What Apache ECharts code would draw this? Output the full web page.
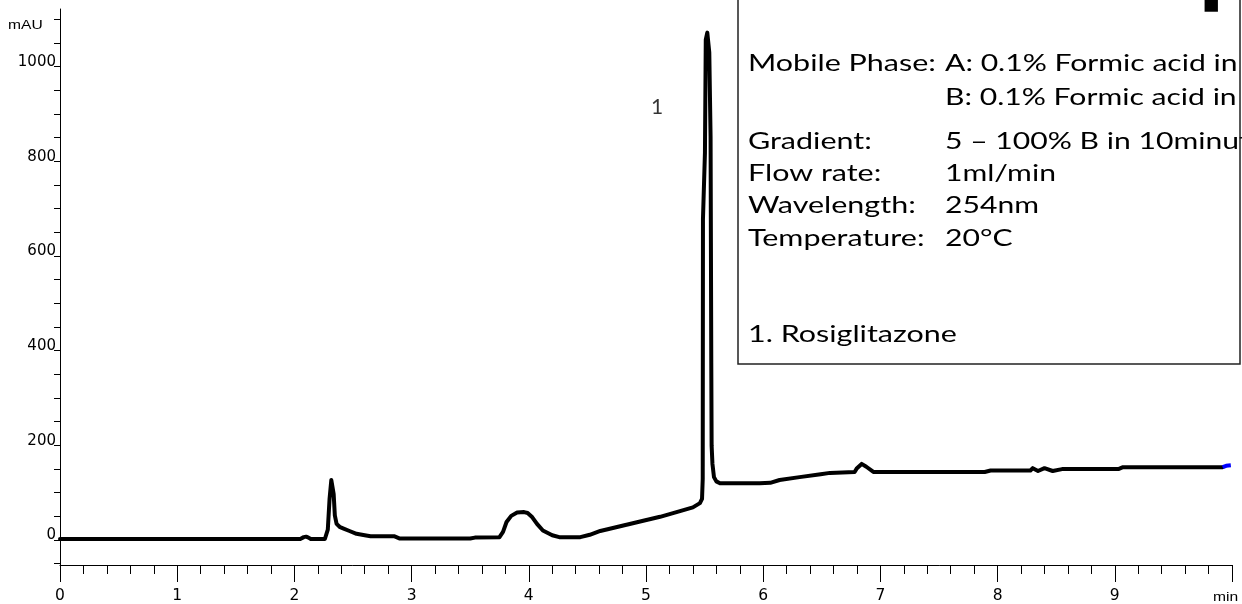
<!DOCTYPE html>
<html>
<head>
<meta charset="utf-8">
<script src="https://cdn.jsdelivr.net/npm/echarts@6/dist/echarts.min.js"></script>
<style>html,body{margin:0;padding:0;background:#fff;}#c{width:1242px;height:604px;}</style>
</head>
<body>
<div id="c"></div>
<script>
// retention time (min)
var times = [0, 2.05, 2.08, 2.10, 2.12, 2.14, 2.26, 2.285, 2.30, 2.315, 2.325, 2.335, 2.345, 2.36, 2.39, 2.42, 2.47, 2.53, 2.60, 2.65, 2.85, 2.90,
  3.50, 3.54, 3.75, 3.78, 3.81, 3.85, 3.90, 3.96, 3.99, 4.03, 4.07, 4.12, 4.20, 4.26, 4.44, 4.52, 4.61, 4.78, 4.95, 5.12, 5.29, 5.40, 5.46, 5.478,
  5.484, 5.486, 5.503, 5.51, 5.523, 5.54, 5.551, 5.557, 5.56, 5.567, 5.58, 5.60, 5.631, 5.97, 6.06, 6.14, 6.31, 6.49, 6.57, 6.78, 6.80, 6.84, 6.88, 6.94,
  7.89, 7.94, 8.28, 8.30, 8.345, 8.40, 8.47, 8.55, 9.03, 9.07, 9.92];
// absorbance (mAU)
var values = [0, 0, 4, 5, 3, 0, 0, 20, 85, 125, 127, 95, 50, 32, 25, 22, 17, 11, 8, 6, 6, 1,
  1, 3, 4, 15, 36, 49, 56, 57, 55, 46, 32, 18, 8, 4, 4, 9, 17, 27, 37, 47, 59, 67, 76, 85,
  127, 677, 818, 1057, 1072, 1030, 852, 374, 197, 159, 131, 122, 118, 118, 119, 125, 131, 137, 140, 142, 150, 159, 153, 142,
  142, 145, 145, 150, 144, 150, 144, 148, 148, 152, 152];
// final segment drawn in blue
var endTimes = [9.92, 9.95, 9.99];
var endValues = [152, 155, 156];

var yTickLabels = [0, 200, 400, 600, 800, 1000];
var xTickLabels = [0, 1, 2, 3, 4, 5, 6, 7, 8, 9];

var conditions = [
  ['Mobile Phase:', 'A: 0.1% Formic acid in'],
  ['', 'B: 0.1% Formic acid in'],
  ['Gradient:', '5 – 100% B in 10minutes'],
  ['Flow rate:', '1ml/min'],
  ['Wavelength:', '254nm'],
  ['Temperature:', '20°C']
];
var peakNames = ['1. Rosiglitazone'];
var peakLabel = {text: '1', t: 5.094, v: 915};

var traceData = times.map(function (t, i) { return [t, values[i]]; });
var endData = endTimes.map(function (t, i) { return [t, endValues[i]]; });

var chart = echarts.init(document.getElementById('c'), null, {renderer: 'canvas'});

var SX = 1.27;
var boxFont = '24px Lato';
function txt(x, y, s, font, va, sx) {
  return {type: 'text', x: x, y: y, scaleX: sx || SX, z: 10,
    style: {x: 0, y: 0, text: s, font: font || boxFont, fill: '#000', verticalAlign: va || 'middle', align: 'left'}};
}
var lineY = [63, 97, 141, 173, 205, 238];
var boxTexts = [];
conditions.forEach(function (row, i) {
  if (row[0]) boxTexts.push(txt(748, lineY[i], row[0]));
  boxTexts.push(txt(945, lineY[i], row[1], boxFont, 'middle', 1.255));
});
peakNames.forEach(function (n, i) {
  boxTexts.push(txt(748, 334 + i * 32, n));
});

var option = {
  animation: false,
  backgroundColor: '#fff',
  grid: [
    {left: 60, right: 10, top: 9, bottom: 38},
    {left: 60, right: 10, top: 19.4, bottom: 40.34}
  ],
  xAxis: [
    {
      type: 'value', gridIndex: 0, min: 0, max: 10, interval: 1,
      axisLine: {show: true, onZero: false, lineStyle: {color: '#000', width: 1}},
      axisTick: {show: true, length: 17, lineStyle: {color: '#000'}},
      minorTick: {show: true, splitNumber: 5, length: 9, lineStyle: {color: '#000'}},
      splitLine: {show: false},
      axisLabel: {margin: 23, fontSize: 15.5, fontFamily: 'DejaVu Sans', color: '#000',
        formatter: function (v) { return xTickLabels.indexOf(v) >= 0 ? String(v) : ''; }}
    },
    {type: 'value', gridIndex: 1, min: 0, max: 10, show: false}
  ],
  yAxis: [
    {
      type: 'value', gridIndex: 0, min: -55, max: 1122,
      axisLine: {show: true, lineStyle: {color: '#000', width: 1}},
      axisTick: {show: false}, axisLabel: {show: false}, splitLine: {show: false}
    },
    {
      type: 'value', gridIndex: 1, min: -50, max: 1100, interval: 50,
      axisLine: {show: false},
      axisTick: {show: true, length: 6, lineStyle: {color: '#000'}},
      splitLine: {show: false},
      axisLabel: {margin: 4, fontSize: 15, fontFamily: 'DejaVu Sans', color: '#000', verticalAlign: 'bottom', lineHeight: 9,
        formatter: function (v) { return yTickLabels.indexOf(v) >= 0 ? String(v) : ''; }}
    }
  ],
  series: [
    {
      type: 'line', xAxisIndex: 0, yAxisIndex: 0, data: traceData, showSymbol: false, symbol: 'none',
      lineStyle: {color: '#000', width: 4, join: 'round', cap: 'round'}, z: 3
    },
    {
      type: 'line', xAxisIndex: 0, yAxisIndex: 0, data: endData, showSymbol: false, symbol: 'none',
      lineStyle: {color: '#0000ff', width: 4}, z: 4
    },
    {
      type: 'scatter', xAxisIndex: 0, yAxisIndex: 0, data: [[peakLabel.t, peakLabel.v]], symbolSize: 0,
      label: {show: true, position: 'inside', formatter: peakLabel.text, fontSize: 21, fontFamily: 'Lato', color: '#000'}
    }
  ],
  graphic: [
    {type: 'rect', shape: {x: 738, y: -10, width: 502, height: 374}, style: {fill: 'none', stroke: '#222', lineWidth: 1.5}, z: 1},
    txt(8, 25, 'mAU', '13px Liberation Sans', 'middle', 1.2),
    txt(1213, 597, 'min', '13px Liberation Sans', 'middle', 1.2),
    txt(1198, 12, 'p', 'bold 80px Lato', 'bottom', 1.35)
  ].concat(boxTexts)
};
chart.setOption(option);
</script>
</body>
</html>
